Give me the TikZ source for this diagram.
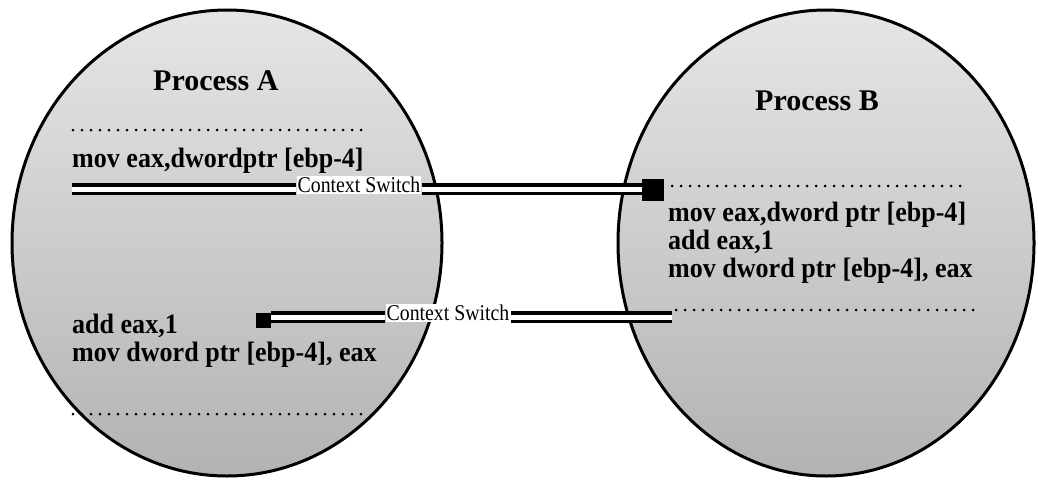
\documentclass[tikz,border=0pt]{standalone}
\usepackage{fontspec}
\setmainfont{Liberation Serif}
\newfontfamily\condfont[FakeStretch=0.93]{Liberation Serif}
\newfontfamily\labfont[FakeStretch=0.88]{Liberation Serif}
\usetikzlibrary{shapes.geometric}
\begin{document}
\begin{tikzpicture}[x=1pt,y=-1pt,
  proc/.style={ellipse, draw=black, line width=3pt, inner sep=0pt,
    top color=black!10, bottom color=black!30},
  title/.style={anchor=base west, inner sep=0pt, font=\fontsize{30}{34}\selectfont\bfseries},
  code/.style={anchor=base west, inner sep=0pt, text height=18pt, text depth=5pt,
    font=\condfont\fontsize{28}{32}\selectfont\bfseries},
  cslabel/.style={fill=white, inner sep=1pt, font=\labfont\fontsize{22.5}{26}\selectfont},
  dots/.style={line width=3pt, dash pattern=on 0pt off 9pt, line cap=round},
  dline/.style={double=white, double distance=5pt, line width=3.5pt},
  headbox/.style={fill=black, minimum size=#1, inner sep=0pt}
]
\useasboundingbox (0,0) rectangle (1038,479);
\node[proc, minimum width=430pt, minimum height=466pt] (ellA) at (227,243) {};
\node[proc, minimum width=416pt, minimum height=466pt] (ellB) at (826,243) {};

\node[title] (tA) at (153,90) {Process A};
\node[title] (tB) at (755,110) {Process B};

% left process
\coordinate (dA1s) at (73,130); \coordinate (dA1e) at (362,130);
\draw[dots] (dA1s) -- (dA1e);
\node[code] (a1) at (72,167) {mov eax,dwordptr [ebp-4]};
\node[code] (a2) at (72,333) {add eax,1};
\node[code] (a3) at (72,361) {mov dword ptr [ebp-4], eax};
\coordinate (dA2s) at (73,414); \coordinate (dA2e) at (362,414);
\draw[dots] (dA2s) -- (dA2e);

% right process
\coordinate (dB1s) at (672,186); \coordinate (dB1e) at (965,186);
\draw[dots] (dB1s) -- (dB1e);
\node[code] (b1) at (668,221) {mov eax,dword ptr [ebp-4]};
\node[code] (b2) at (668,249) {add eax,1};
\node[code] (b3) at (668,277) {mov dword ptr [ebp-4], eax};
\coordinate (dB2s) at (676,310); \coordinate (dB2e) at (973,310);
\draw[dots] (dB2s) -- (dB2e);

% top context switch A -> B
\coordinate (s1) at (72,189);
\node[cslabel] (cs1) at (359,185) {Context Switch};
\node[headbox=22pt] (h1) at (653,190) {};
\draw[dline] (s1) -- (s1 -| cs1.west);
\draw[dline] (cs1.east |- s1) -- (h1.west |- s1);

% bottom context switch B -> A
\coordinate (s2) at (672,317);
\node[cslabel] (cs2) at (448,313) {Context Switch};
\node[headbox=15pt] (h2) at (263,320) {};
\draw[dline] (s2) -- (s2 -| cs2.east);
\draw[dline] (cs2.west |- s2) -- (h2.east |- s2);
\end{tikzpicture}
\end{document}
